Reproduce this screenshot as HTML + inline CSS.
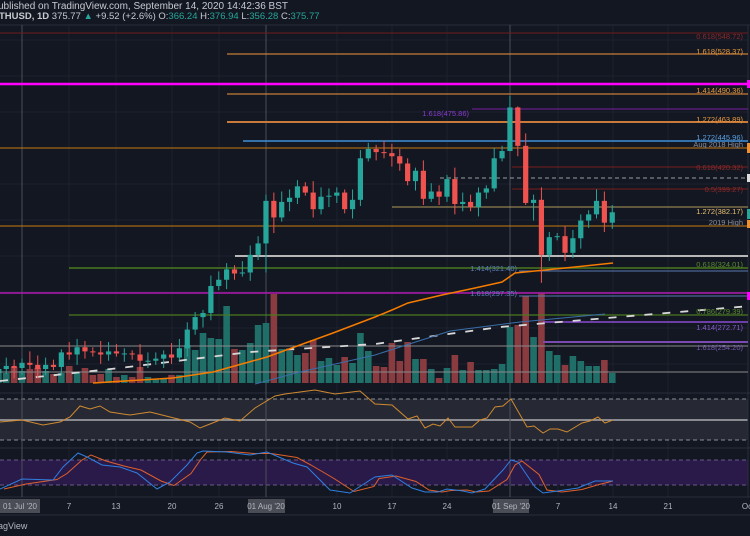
<!DOCTYPE html>
<html><head><meta charset="utf-8"><style>
html,body{margin:0;padding:0;background:#131722;}
svg{display:block;font-family:"Liberation Sans",sans-serif;}
</style></head><body>
<svg id="s" width="750" height="536" viewBox="0 0 750 536" xmlns="http://www.w3.org/2000/svg">
<rect width="750" height="536" fill="#131722"/>
<g id="grid" stroke="#1e2230" stroke-width="1"></g>
<rect x="0" y="399" width="748" height="41" fill="#262933"/>
<line x1="0" y1="399" x2="748" y2="399" stroke="#8a8d96" stroke-dasharray="4,3"/>
<line x1="0" y1="440" x2="748" y2="440" stroke="#8a8d96" stroke-dasharray="4,3"/>
<line x1="0" y1="420" x2="748" y2="420" stroke="#a8aab0" stroke-width="1.5"/>
<rect x="0" y="460" width="748" height="25" fill="#2a1a4a"/>
<line x1="0" y1="460" x2="748" y2="460" stroke="#6a5a8a" stroke-dasharray="4,3"/>
<line x1="0" y1="485" x2="748" y2="485" stroke="#6a5a8a" stroke-dasharray="4,3"/>
<line x1="0" y1="25" x2="750" y2="25" stroke="#2a2e39"/>
<line x1="0" y1="393" x2="750" y2="393" stroke="#2a2e39"/>
<line x1="0" y1="448" x2="750" y2="448" stroke="#2a2e39"/>
<line x1="0" y1="497" x2="750" y2="497" stroke="#2a2e39"/>
<line x1="0" y1="515" x2="750" y2="515" stroke="#2a2e39"/>
<line x1="748" y1="25" x2="748" y2="497" stroke="#2a2e39"/>
<line x1="22" y1="25" x2="22" y2="497" stroke="#4a4e58"/>
<line x1="266" y1="25" x2="266" y2="497" stroke="#4a4e58"/>
<line x1="510" y1="25" x2="510" y2="497" stroke="#4a4e58"/>
<g id="vol"></g>
<line x1="0" y1="33" x2="748" y2="33" stroke="#6e1c1c"/>
<line x1="227" y1="54" x2="748" y2="54" stroke="#f0953a"/>
<line x1="0" y1="84" x2="748" y2="84" stroke="#ff00ff" stroke-width="2.5"/>
<line x1="227" y1="94" x2="748" y2="94" stroke="#f0953a"/>
<line x1="472" y1="109" x2="748" y2="109" stroke="#7b1fa2"/>
<line x1="227" y1="122" x2="748" y2="122" stroke="#c87a3a" stroke-width="2"/>
<line x1="243" y1="141" x2="748" y2="141" stroke="#3d8fd6" stroke-width="1.5"/>
<line x1="0" y1="148" x2="748" y2="148" stroke="#c77a10"/>
<line x1="512" y1="167" x2="748" y2="167" stroke="#7a1f1f"/>
<line x1="440" y1="178" x2="748" y2="178" stroke="#9a9ca4" stroke-dasharray="4,3"/>
<line x1="512" y1="189" x2="748" y2="189" stroke="#7a1f1f"/>
<line x1="392" y1="207" x2="748" y2="207" stroke="#b09a5a"/>
<line x1="0" y1="226" x2="748" y2="226" stroke="#c77a10"/>
<line x1="235" y1="256" x2="748" y2="256" stroke="#b8b8b8" stroke-width="2"/>
<line x1="69" y1="268" x2="748" y2="268" stroke="#4a7a1e" stroke-width="1.5"/>
<line x1="519" y1="271" x2="748" y2="271" stroke="#5a78b0"/>
<line x1="0" y1="293" x2="748" y2="293" stroke="#b018b0" stroke-width="1.5"/>
<line x1="519" y1="296" x2="748" y2="296" stroke="#5a78b0"/>
<line x1="69" y1="315" x2="748" y2="315" stroke="#4a7a1e" stroke-width="1.2"/>
<line x1="543" y1="322" x2="748" y2="322" stroke="#8a4ad0" stroke-width="1.5"/>
<line x1="543" y1="342" x2="748" y2="342" stroke="#7a4ab0" stroke-width="2"/>
<line x1="0" y1="346" x2="748" y2="346" stroke="#8a8a8a"/>
<line x1="0" y1="372" x2="748" y2="372" stroke="#8a8a8a"/>
<path d="M0,381 L120,368 L250,352 L375,344 L500,327 L750,306" stroke="#d8d8d8" stroke-width="1.8" fill="none" stroke-dasharray="8,10"/>
<path d="M255,384 L300,372 L375,355 L450,331 L520,322 L605,314" stroke="#3a6ea8" stroke-width="1" fill="none"/>
<path d="M93,383 L173,378 L213,372 L267,357 L333,333 L375,317 L392,310 L408,303 L442,295 L475,288 L502,282 L515,273 L535,271 L575,267 L613,263" stroke="#f57c00" stroke-width="1.5" fill="none"/>
<g id="candles"></g>
<g font-size="7.5" text-anchor="end">
<text x="743" y="39" fill="#8a2a2a">0.618(548.72)</text>
<text x="743" y="54" fill="#e89a40">1.618(528.37)</text>
<text x="743" y="93" fill="#e89a40">1.414(490.36)</text>
<text x="469" y="116" fill="#8a3ad0">1.618(475.86)</text>
<text x="743" y="122" fill="#e89a40">1.272(463.89)</text>
<text x="743" y="140" fill="#5aa0e0">1.272(445.96)</text>
<text x="743" y="147" fill="#8a8d96">Aug 2018 High</text>
<text x="743" y="170" fill="#8a2a2a">0.618(420.32)</text>
<text x="743" y="192" fill="#8a2a2a">0.5(399.27)</text>
<text x="743" y="214" fill="#e8c070">1.272(382.17)</text>
<text x="743" y="225" fill="#8a8d96">2019 High</text>
<text x="517" y="271" fill="#5a80c0">1.414(321.40)</text>
<text x="743" y="267" fill="#5a8a2e">0.618(324.01)</text>
<text x="517" y="296" fill="#5a80c0">1.618(297.35)</text>
<text x="743" y="314" fill="#5a8a2e">0.786(279.39)</text>
<text x="743" y="330" fill="#8a5ad0">1.414(272.71)</text>
<text x="743" y="350" fill="#7a5ab0">1.618(254.20)</text>
</g>
<rect x="747" y="80" width="3" height="8" fill="#ff00ff"/>
<rect x="747" y="143" width="3" height="10" fill="#f09030"/>
<rect x="747" y="174" width="3" height="8" fill="#ddd"/>
<rect x="747" y="209" width="3" height="10" fill="#26a69a"/>
<rect x="747" y="220" width="3" height="8" fill="#f09030"/>
<rect x="747" y="292" width="3" height="8" fill="#ff00ff"/>
<path id="rsi" fill="none" stroke="#d08a30" stroke-width="1"/>
<path id="st2" fill="none" stroke="#e0602a" stroke-width="1"/>
<path id="st1" fill="none" stroke="#2f7fe0" stroke-width="1"/>
<text x="-2" y="9" font-size="10" fill="#c8cad0">ublished on TradingView.com, September 14, 2020 14:42:36 BST</text>
<text x="-1" y="19" font-size="9.5" fill="#c8cad0"><tspan font-weight="bold">THUSD, 1D</tspan> 375.77 <tspan fill="#26a69a">▲</tspan> +9.52 (+2.6%) O:<tspan fill="#26a69a">366.24</tspan> H:<tspan fill="#26a69a">376.94</tspan> L:<tspan fill="#26a69a">356.28</tspan> C:<tspan fill="#26a69a">375.77</tspan></text>
<g font-size="8" fill="#b2b5be" text-anchor="middle">
<rect x="0" y="499" width="40" height="14" fill="#4a4d56"/>
<text x="20" y="509">01 Jul '20</text>
<text x="69" y="509">7</text><text x="116" y="509">13</text><text x="172" y="509">20</text><text x="219" y="509">26</text>
<rect x="248" y="499" width="37" height="14" fill="#4a4d56"/>
<text x="266" y="509">01 Aug '20</text>
<text x="337" y="509">10</text><text x="392" y="509">17</text><text x="447" y="509">24</text>
<rect x="493" y="499" width="36" height="14" fill="#4a4d56"/>
<text x="511" y="509">01 Sep '20</text>
<text x="558" y="509">7</text><text x="613" y="509">14</text><text x="668" y="509">21</text><text x="747" y="509">Oc</text>
</g>
<text x="-2" y="529" font-size="9" fill="#b2b5be">agView</text>
</svg>
<script>
var NS="http://www.w3.org/2000/svg";
function el(p,t,a){var e=document.createElementNS(NS,t);for(var k in a)e.setAttribute(k,a[k]);p.appendChild(e);return e;}
var Y=function(p){return 33+(548.72-p)*1.038;};
var X=function(i){return 22+i*7.87;};
var g=document.getElementById('grid');
[22,69,116,172,219,266,337,392,447,510,558,613,668].forEach(function(x){el(g,'line',{x1:x,y1:25,x2:x,y2:497});});
for(var yy=40;yy<390;yy+=36)el(g,'line',{x1:0,y1:yy,x2:748,y2:yy});
var C=[221,225,228,226,231,229,225,229,227,241,239,246,242,241,239,242,240,240,239,233,233,235,239,236,245,263,275,279,305,311,321,317,318,335,346,387,371,386,390,401,395,379,391,392,395,379,388,428,437,434,433,430,423,406,416,389,396,391,408,384,386,381,395,399,428,435,477,440,385,388,335,352,353,337,351,368,374,387,366,376];
var V=[14,10,16,
12,14,15,12,9,10,17,11,15,8,
9,14,6,8,6,16,6,4,5,8,
8,38,33,50,45,44,77,34,33,40,
58,60,89,34,32,28,30,43,22,25,
18,26,20,50,32,17,16,40,22,41,
24,24,14,5,15,28,13,21,13,13,
14,19,56,58,87,46,90,32,28,18,
27,22,17,17,23,10];
var HL={66:[488,435],67:[478,430],68:[452,383],70:[400,308],35:[393,318],36:[395,356],65:[440,425],69:[393,368]};
var cg=document.getElementById('candles'),vg=document.getElementById('vol');
for(var k=1;k<C.length;k++){
 var o=C[k-1],c=C[k],x=X(k-4),up=c>=o;
 var h=Math.max(o,c)+3+((k*7)%9),l=Math.min(o,c)-3-((k*5)%8);
 if(HL[k]){h=HL[k][0];l=HL[k][1];}
 var col=up?'#26a69a':'#ef5350';
 var vh=V[k-1]||10;
 el(vg,'rect',{x:x-3.3,y:383-vh,width:6.6,height:vh,fill:up?'#1f6f68':'#8a3b40'});
 el(cg,'line',{x1:x,y1:Y(h),x2:x,y2:Y(l),stroke:col,'stroke-width':1});
 var t=Y(Math.max(o,c)),b=Y(Math.min(o,c));
 el(cg,'rect',{x:x-2.6,y:t,width:5.2,height:Math.max(1,b-t),fill:col});
}
function path(id,pts){document.getElementById(id).setAttribute('d','M'+pts.map(function(p){return p.join(',');}).join(' L'));}
path('rsi',[[0,422],[22,420],[43,425],[60,422],[70,417],[80,406],[90,409],[100,406],[110,412],[130,415],[150,412],[170,417],[190,422],[200,428],[210,424],[225,418],[240,421],[255,408],[275,396],[285,394],[315,390],[335,394],[360,391],[375,404],[392,405],[408,419],[417,416],[425,428],[433,424],[440,426],[448,418],[455,427],[472,427],[480,420],[487,418],[495,407],[503,406],[511,399],[527,427],[534,426],[543,433],[550,429],[558,429],[567,432],[582,423],[590,421],[598,417],[605,423],[613,420]]);
var b=[[0,489],[22,479],[53,480],[63,467],[78,453],[87,457],[102,465],[120,467],[137,473],[157,489],[170,482],[187,465],[197,453],[203,451],[227,452],[250,455],[267,452],[293,463],[307,467],[330,490],[350,493],[370,480],[375,477],[392,475],[412,488],[425,492],[438,492],[447,489],[463,491],[472,493],[485,489],[503,470],[511,460],[518,462],[535,487],[543,493],[558,491],[578,488],[595,481],[613,481]];
path('st1',b);
var r=b.map(function(p,i){var q=b[Math.max(0,i-1)];return [p[0]+4,(p[1]+q[1])/2];});r[r.length-1]=[613,481];
path('st2',r);
</script>
</body></html>
